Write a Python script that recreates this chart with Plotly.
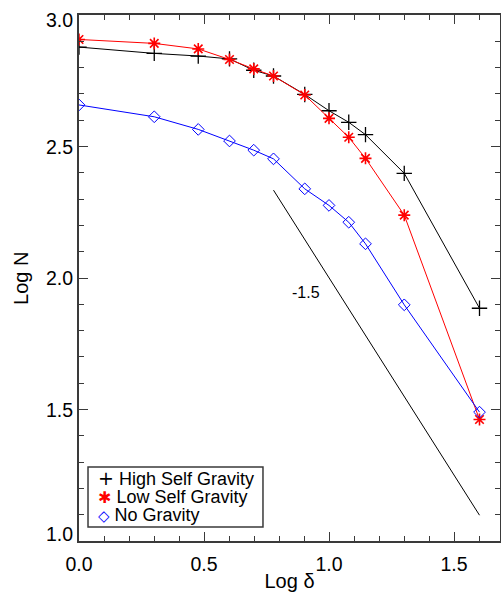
import plotly.graph_objects as go

log_delta = [0.0, 0.301, 0.477, 0.602, 0.699, 0.778, 0.903, 1.0, 1.079, 1.146, 1.301, 1.602]
high_grav = [2.878, 2.854, 2.844, 2.833, 2.790, 2.768, 2.698, 2.636, 2.592, 2.545, 2.398, 1.885]
low_grav = [2.907, 2.892, 2.871, 2.831, 2.795, 2.768, 2.696, 2.607, 2.535, 2.455, 2.239, 1.462]
no_grav = [2.658, 2.613, 2.565, 2.521, 2.486, 2.453, 2.339, 2.276, 2.212, 2.130, 1.898, 1.490]

series_names = ["High Self Gravity", "Low Self Gravity", "No Gravity"]
series_colors = ["black", "red", "blue"]
legend_glyphs = ["+", "✱", "◇"]

y_tick_vals = [1.0, 1.5, 2.0, 2.5, 3.0]
y_tick_text = ["1.0", "1.5", "2.0", "2.5", "3.0"]

slope_x = [0.778, 1.602]
slope_y = [2.334, 1.098]
slope_label = "-1.5"
slope_label_pos = (0.908, 1.946)

FONT = "Liberation Sans, Arial, sans-serif"
AX = "#3a3a3a"

marker_styles = [
    dict(symbol="cross-thin-open", size=11, color="black", line=dict(color="black", width=1.3)),
    dict(symbol="asterisk-open", size=10, color="red", line=dict(color="red", width=1.6)),
    dict(symbol="diamond-open", size=9, color="blue", line=dict(color="blue", width=1)),
]

fig = go.Figure()
for name, color, ys, mk in zip(series_names, series_colors, [high_grav, low_grav, no_grav], marker_styles):
    fig.add_trace(go.Scatter(x=log_delta, y=ys, mode="lines+markers", name=name,
                             line=dict(color=color, width=1), marker=mk, showlegend=False))

fig.add_trace(go.Scatter(x=slope_x, y=slope_y, mode="lines", showlegend=False,
                         line=dict(color="black", width=1)))

fig.add_annotation(x=slope_label_pos[0], y=slope_label_pos[1], text=slope_label, showarrow=False,
                   font=dict(family=FONT, size=16, color="black"))

# legend box (IDL style, compact)
fig.add_shape(type="rect", xref="x domain", yref="y domain", x0=0.0214, x1=0.437, y0=0.0266, y1=0.1407,
              line=dict(color=AX, width=1.5), fillcolor="white", layer="above")
row_y = [0.1207, 0.0846, 0.0485]
glyph_sizes = [19, 16, 15]
for name, color, glyph, gs, ry in zip(series_names, series_colors, legend_glyphs, glyph_sizes, row_y):
    txt = (f'<span style="color:{color};font-size:{gs}px;font-family:DejaVu Sans">{glyph}</span>'
           f' {name}')
    fig.add_annotation(xref="x domain", yref="y domain", x=0.0428, y=ry, text=txt, showarrow=False,
                       xanchor="left", yanchor="middle", borderpad=0,
                       font=dict(family=FONT, size=18, color="black"))

# y tick labels set close to the frame, IDL style (end labels kept inside the axis span)
end_shift = {y_tick_vals[0]: 7, y_tick_vals[-1]: -5}
for v, t in zip(y_tick_vals, y_tick_text):
    fig.add_annotation(xref="x domain", yref="y", x=0, y=v, text=t, showarrow=False,
                       xanchor="right", yanchor="middle", xshift=-6, yshift=end_shift.get(v, 0),
                       borderpad=0, borderwidth=0,
                       font=dict(family=FONT, size=19.5, color="black"))

fig.add_annotation(xref="x domain", yref="y domain", x=-0.1378, y=0.5, text="Log N", showarrow=False,
                   textangle=-90, xanchor="center", yanchor="middle",
                   font=dict(family=FONT, size=20, color="black"))

axis_common = dict(
    showline=True, linecolor=AX, linewidth=2, mirror="ticks",
    ticks="inside", ticklen=9, tickwidth=1.3, tickcolor=AX,
    showgrid=False, zeroline=False, automargin=False,
    tickfont=dict(family=FONT, size=19.5, color="black"),
    tickformat=".1f",
    minor=dict(ticks="inside", ticklen=5, tickwidth=1, tickcolor=AX, dtick=0.1, showgrid=False),
)

fig.update_xaxes(range=[0, 1.684], dtick=0.5, tick0=0, ticklabelstandoff=5,
                 title=dict(text="Log δ", font=dict(family=FONT, size=20, color="black"), standoff=0),
                 **axis_common)
fig.update_yaxes(range=[1.0, 3.0], tickvals=y_tick_vals, showticklabels=False, **axis_common)

fig.update_layout(
    width=501, height=595,
    margin=dict(l=79, r=1, t=15, b=54),
    paper_bgcolor="white", plot_bgcolor="white",
    font=dict(family=FONT, color="black"),
    showlegend=False,
)

fig.write_html("out.html", config={"displayModeBar": False},
               post_script="document.body.style.margin='0';document.body.style.padding='0';")
